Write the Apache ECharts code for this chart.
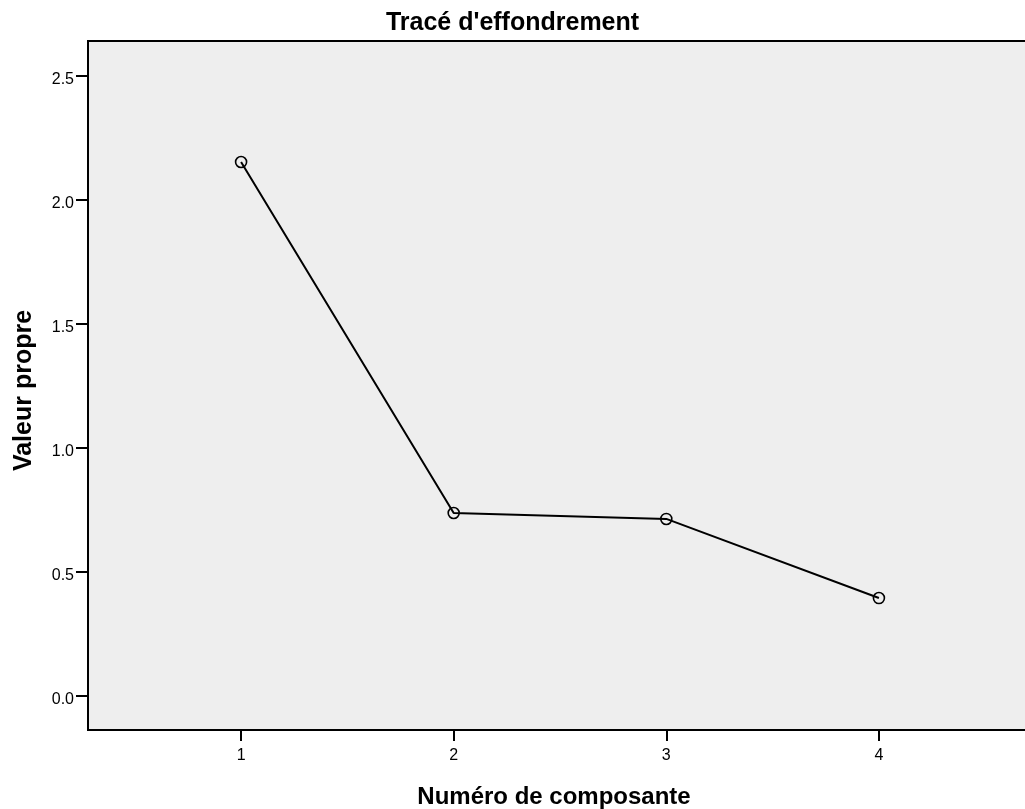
<!DOCTYPE html>
<html>
<head>
<meta charset="utf-8">
<script src="https://cdn.jsdelivr.net/npm/echarts@6/dist/echarts.min.js"></script>
<style>html,body{margin:0;padding:0;background:#fff;}#c{width:1025px;height:809px;}</style>
</head>
<body>
<div id="c"></div>
<script>
const components = [1, 2, 3, 4];
const eigenvalues = [2.153, 0.738, 0.714, 0.395];
const yTicks = [0.0, 0.5, 1.0, 1.5, 2.0, 2.5];
const xTicks = [1, 2, 3, 4];

const chart = echarts.init(document.getElementById('c'), null, {renderer: 'canvas'});
const font = '"Liberation Sans", Arial, sans-serif';
chart.setOption({
  animation: false,
  backgroundColor: '#ffffff',
  title: {
    text: "Tracé d'effondrement",
    left: 'center', top: 6,
    textStyle: {fontFamily: font, fontSize: 25, fontWeight: 'bold', color: '#000'}
  },
  grid: {
    left: 88, top: 41, width: 944, height: 689,
    containLabel: false, outerBoundsMode: 'none',
    show: true, backgroundColor: '#eeeeee', borderColor: '#000', borderWidth: 2
  },
  xAxis: {
    type: 'value', min: 0.28, max: 4.72,
    name: 'Numéro de composante', nameLocation: 'middle', nameGap: 55,
    nameTextStyle: {fontFamily: font, fontSize: 24, fontWeight: 'bold', color: '#000', padding: [0, 0, 0, -12]},
    axisLine: {show: true, onZero: false, lineStyle: {color: '#000', width: 2}},
    axisTick: {show: true, length: 11, customValues: xTicks, lineStyle: {color: '#000', width: 2}},
    axisLabel: {customValues: xTicks, margin: 18, fontFamily: font, fontSize: 16, color: '#000', formatter: v => String(v)},
    splitLine: {show: false}
  },
  yAxis: {
    type: 'value', min: -0.137, max: 2.641,
    name: 'Valeur propre', nameLocation: 'middle', nameGap: 51,
    nameTextStyle: {fontFamily: font, fontSize: 25, fontWeight: 'bold', color: '#000', padding: [0, 10, 0, 0]},
    axisLine: {show: true, onZero: false, lineStyle: {color: '#000', width: 2}},
    axisTick: {show: true, length: 12, customValues: yTicks, lineStyle: {color: '#000', width: 2}},
    axisLabel: {
      customValues: yTicks, margin: 14, fontFamily: font, fontSize: 16, color: '#000',
      formatter: v => '{a|' + v.toFixed(1) + '}',
      rich: {a: {fontFamily: font, fontSize: 16, color: '#000', padding: [7, 0, 0, 0]}}
    },
    splitLine: {show: false}
  },
  series: [{
    type: 'line',
    data: components.map((c, i) => [c, eigenvalues[i]]),
    symbol: 'circle', symbolSize: 11,
    lineStyle: {color: '#000', width: 2},
    itemStyle: {color: 'rgba(0,0,0,0)', borderColor: '#000', borderWidth: 1.6},
    z: 3
  }]
});
</script>
</body>
</html>
